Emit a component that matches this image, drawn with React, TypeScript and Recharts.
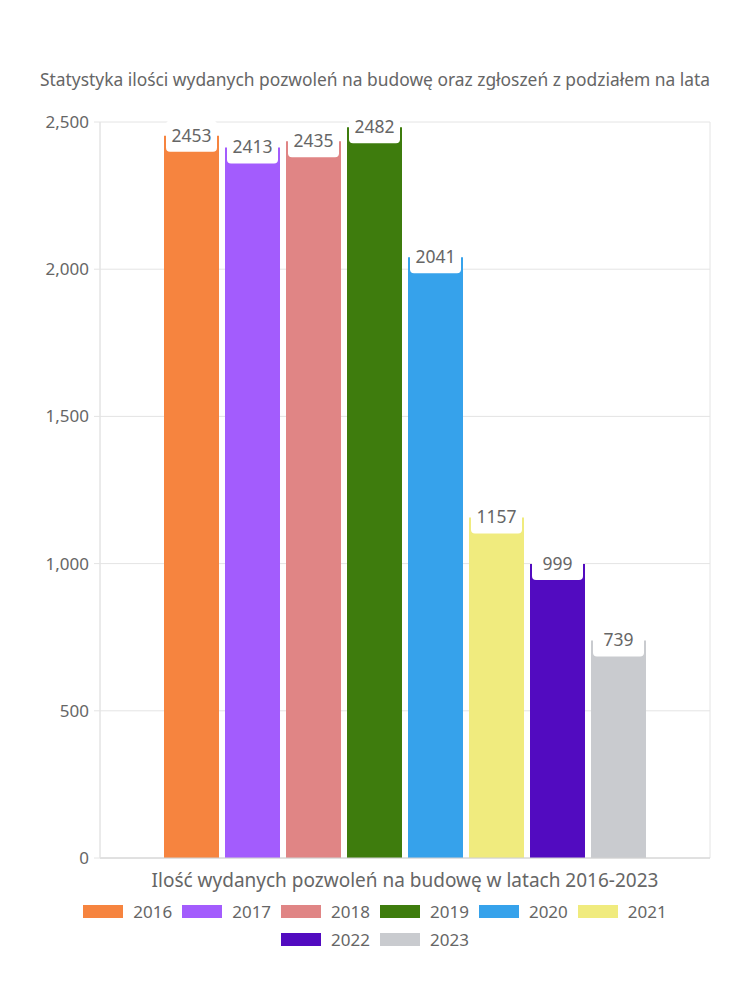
import { BarChart, Bar, XAxis, YAxis, CartesianGrid, Legend } from "recharts";

const TITLE = "Statystyka ilości wydanych pozwoleń na budowę oraz zgłoszeń z podziałem na lata";
const CATEGORY = "Ilość wydanych pozwoleń na budowę w latach 2016-2023";
const YEARS = ["2016", "2017", "2018", "2019", "2020", "2021", "2022", "2023"];
const PERMITS = [2453, 2413, 2435, 2482, 2041, 1157, 999, 739];
const COLORS = ["#f6843f", "#a35cfd", "#e08585", "#3e7c0d", "#36a2eb", "#f0eb7e", "#520bc0", "#c9cbcf"];
const Y_TICKS = [0, 500, 1000, 1500, 2000, 2500];

const FONT = "'Noto Sans', sans-serif";
const TEXT = "#666";
const GRID = "#e4e4e4";

const data = [
  YEARS.reduce<Record<string, string | number>>(
    (row, y, i) => {
      row[y] = PERMITS[i];
      return row;
    },
    { name: CATEGORY }
  ),
];

function ValueTag(props: any) {
  const { x, y, width, value } = props;
  const w = width - 4;
  return (
    <g>
      <rect x={x + 2} y={y - 15} width={w} height={31} rx={4} fill="#fff" />
      <text
        x={x + width / 2}
        y={y + 1}
        textAnchor="middle"
        dominantBaseline="middle"
        fontFamily={FONT}
        fontSize={17.5}
        fill={TEXT}
      >
        {value}
      </text>
    </g>
  );
}

function LegendRows() {
  return (
    <div
      style={{
        height: 70,
        paddingTop: 5,
        boxSizing: "border-box",
        display: "flex",
        flexWrap: "wrap",
        justifyContent: "center",
        alignContent: "flex-start",
        width: 620,
        margin: "0 auto",
        fontFamily: FONT,
        fontSize: 17,
        color: TEXT,
      }}
    >
      {YEARS.map((y, i) => (
        <div key={y} style={{ display: "flex", alignItems: "center", height: 28, margin: "0 5px" }}>
          <span style={{ width: 40, height: 13, background: COLORS[i], marginRight: 10 }} />
          <span>{y}</span>
        </div>
      ))}
    </div>
  );
}

export default function App() {
  return (
    <div style={{ position: "relative", width: 734, height: 984 }}>
      <div
        style={{
          position: "absolute",
          top: 59,
          left: 0,
          width: 734,
          textAlign: "center",
          fontFamily: FONT,
          fontSize: 17.4,
          color: TEXT,
          whiteSpace: "nowrap",
        }}
      >
        {TITLE}
      </div>
      <BarChart
        width={734}
        height={984}
        data={data}
        margin={{ top: 114, right: 32, left: 0, bottom: 30 }}
        barCategoryGap={64}
        barGap={6}
      >
        <CartesianGrid
          stroke={GRID}
          verticalCoordinatesGenerator={({ offset }: any) => [offset.left, offset.left + offset.width]}
        />
        <XAxis
          dataKey="name"
          height={34}
          tickLine={false}
          tickMargin={10}
          axisLine={{ stroke: "#d0d0d0" }}
          tick={{ fontFamily: FONT, fontSize: 19, fill: TEXT }}
        />
        <YAxis
          width={92}
          domain={[0, 2500]}
          ticks={Y_TICKS}
          interval={0}
          tickSize={6}
          tickMargin={5}
          tickLine={{ stroke: GRID }}
          axisLine={{ stroke: GRID }}
          tickFormatter={(v: number) => v.toLocaleString("en-US")}
          tick={{ fontFamily: FONT, fontSize: 17, fill: TEXT }}
        />
        <Legend
          verticalAlign="bottom"
          wrapperStyle={{ left: 0, width: 734 }}
          content={() => <LegendRows />}
        />
        {YEARS.map((y, i) => (
          <Bar
            key={y}
            dataKey={y}
            fill={COLORS[i]}
            isAnimationActive={false}
            label={<ValueTag />}
          />
        ))}
      </BarChart>
    </div>
  );
}
